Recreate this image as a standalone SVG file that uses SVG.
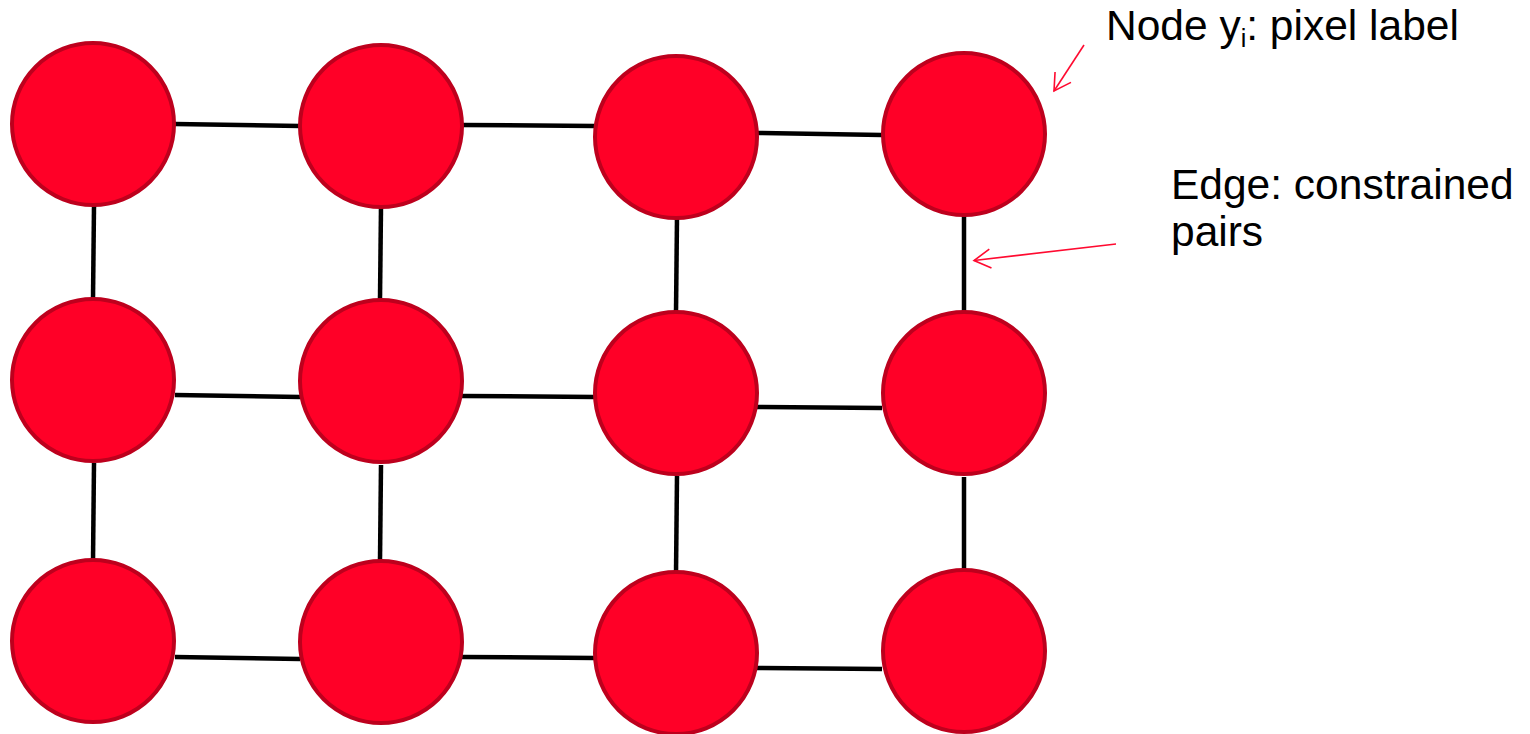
<svg xmlns="http://www.w3.org/2000/svg" width="1530" height="734" viewBox="0 0 1530 734">
<style>
.node{fill:#ff0027;stroke:#bd001d;stroke-width:4}
.edge{stroke:#000;stroke-width:4.5;fill:none}
.ptr{stroke:#ff0a30;stroke-width:1.6;fill:none}
.lbl{font-family:"Liberation Sans",Arial,sans-serif;fill:#000;font-size:42.5px}
</style>
<defs>
<marker id="open" markerUnits="userSpaceOnUse" markerWidth="24" markerHeight="24" refX="20" refY="12" orient="auto">
<path d="M3.5,2.5 L20,12 L3.5,21.5" fill="none" stroke="#ff0a30" stroke-width="1.6"/>
</marker>
</defs>
<rect width="1530" height="734" fill="#fff"/>
<g id="connectors">
<line class="edge" x1="175" y1="124" x2="300" y2="126"/>
<line class="edge" x1="462" y1="125" x2="595" y2="126"/>
<line class="edge" x1="757" y1="133" x2="882" y2="135"/>
<line class="edge" x1="175" y1="395" x2="300" y2="397"/>
<line class="edge" x1="462" y1="396" x2="595" y2="397"/>
<line class="edge" x1="757" y1="407" x2="882" y2="408"/>
<line class="edge" x1="175" y1="657" x2="300" y2="659"/>
<line class="edge" x1="462" y1="657" x2="595" y2="658"/>
<line class="edge" x1="757" y1="668" x2="882" y2="669"/>
<line class="edge" x1="94" y1="206" x2="93" y2="299"/>
<line class="edge" x1="94" y1="463" x2="93" y2="561"/>
<line class="edge" x1="381" y1="207" x2="380" y2="299"/>
<line class="edge" x1="381" y1="465" x2="380" y2="561"/>
<line class="edge" x1="677" y1="217" x2="676" y2="313"/>
<line class="edge" x1="677" y1="476" x2="676" y2="574"/>
<line class="edge" x1="964" y1="214" x2="964" y2="312"/>
<line class="edge" x1="964" y1="477" x2="964" y2="571"/>
<line class="ptr" x1="1084" y1="45" x2="1054" y2="91" marker-end="url(#open)"/>
<line class="ptr" x1="1116" y1="244" x2="974" y2="260.5" marker-end="url(#open)"/>
</g>
<g id="n11"><circle class="node" cx="93" cy="124" r="81"/></g>
<g id="n12"><circle class="node" cx="381" cy="126" r="81"/></g>
<g id="n13"><circle class="node" cx="676" cy="137" r="81"/></g>
<g id="n14"><circle class="node" cx="964" cy="134" r="81"/></g>
<g id="n21"><circle class="node" cx="93" cy="380" r="81"/></g>
<g id="n22"><circle class="node" cx="381" cy="381" r="81"/></g>
<g id="n23"><circle class="node" cx="676" cy="393" r="81"/></g>
<g id="n24"><circle class="node" cx="964" cy="393" r="81"/></g>
<g id="n31"><circle class="node" cx="93" cy="641" r="81"/></g>
<g id="n32"><circle class="node" cx="381" cy="642" r="81"/></g>
<g id="n33"><circle class="node" cx="676" cy="653" r="81"/></g>
<g id="n34"><circle class="node" cx="964" cy="651" r="81"/></g>
<g id="label-node">
<text class="lbl" x="1106" y="40">Node y<tspan font-size="25" dy="7">i</tspan><tspan dy="-7">: pixel label</tspan></text>
</g>
<g id="label-edge">
<text class="lbl" x="1171" y="199">Edge: constrained</text>
<text class="lbl" x="1171" y="246">pairs</text>
</g>
</svg>
